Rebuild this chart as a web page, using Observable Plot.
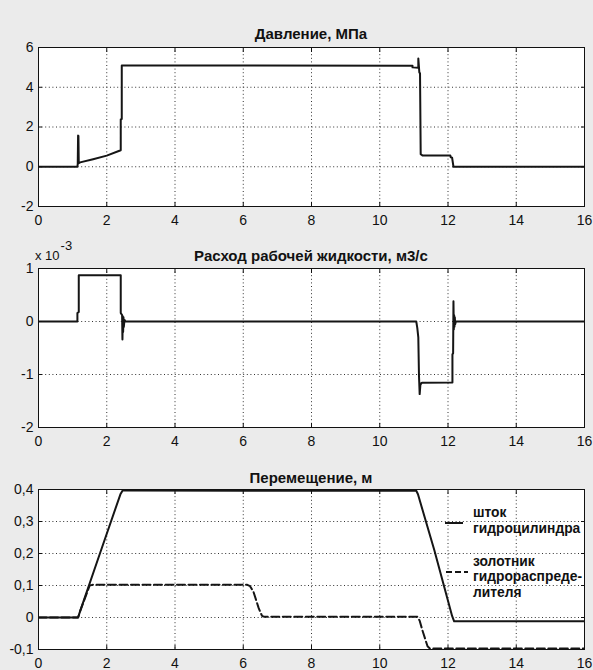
<!DOCTYPE html>
<html><head><meta charset="utf-8">
<script src="https://cdn.jsdelivr.net/npm/d3@7"></script>
<script src="https://cdn.jsdelivr.net/npm/@observablehq/plot@0.6"></script>
<style>
body{margin:0;background:#ebebeb;}
#fig{position:relative;width:593px;height:670px;background:#ebebeb;font-family:"Liberation Sans",Arial,sans-serif;overflow:hidden;color:#111}
.title{position:absolute;left:38px;width:546px;text-align:center;font-weight:bold;font-size:15px;line-height:17px;white-space:nowrap}
.panel{position:absolute;left:0}
.lg{position:absolute;font-weight:bold;font-size:13.8px;line-height:16px;white-space:nowrap}
svg{overflow:visible}
</style></head><body><div id="fig"></div>
<script>
// ---- data ----
const xTicks = [0, 2, 4, 6, 8, 10, 12, 14, 16];
const titles = ["Давление, МПа", "Расход рабочей жидкости, м3/с", "Перемещение, м"];
const legendLabels = [["шток", "гидроцилиндра"], ["золотник", "гидрораспреде-", "лителя"]];

// Pressure, MPa
const pressureTicks = [-2, 0, 2, 4, 6];
const pressureTime  = [0, 1.14, 1.15, 1.16, 1.17, 1.18, 1.22, 1.6, 2.0, 2.41, 2.41, 2.44, 2.44, 2.5, 6, 10.96, 10.96, 11.13, 11.13, 11.16, 11.18, 11.2, 11.25, 12.07, 12.08, 12.12, 12.16, 16];
const pressureValue = [0, 0,    0.15, 1.57, 1.55, 0.18, 0.22, 0.38, 0.56, 0.83, 2.38, 2.4, 5.1, 5.1, 5.09, 5.08, 5.0, 4.98, 5.45, 4.75, 4.7, 0.63, 0.57, 0.56, 0.48, 0.46, 0, 0];

// Flow, x10^-3 m3/s
const flowTicks = [-2, -1, 0, 1];
const flowTime  = [0, 1.14, 1.14, 1.18, 1.18, 2.41, 2.41, 2.45, 2.46, 2.47, 2.48, 2.49, 2.5, 2.52, 2.55, 11.07, 11.1, 11.13, 11.15, 11.17, 11.19, 11.22, 11.25, 12.13, 12.13, 12.15, 12.16, 12.17, 12.18, 12.19, 12.2, 12.21, 12.23, 16];
const flowValue = [0, 0,    0.16, 0.18, 0.875, 0.875, 0.16, 0.12, -0.34, 0.1, -0.2, 0.08, -0.1, 0.03, 0, 0,   -0.12, -0.3, -1.03, -1.37, -1.2, -1.16, -1.155, -1.15, -0.62, -0.6, 0.38, -0.15, 0.12, -0.1, 0.08, -0.05, 0, 0];

// Displacement, m
const dispTicks = [-0.1, 0, 0.1, 0.2, 0.3, 0.4];
const rodTime    = [0, 1.16, 1.22, 1.8, 2.4, 2.47, 2.6, 6, 11.07, 11.12, 11.6, 12.12, 12.18, 16];
const rodValue   = [0, 0,    0.02, 0.2, 0.385, 0.398, 0.397, 0.396, 0.396, 0.385, 0.21, 0.005, -0.012, -0.012];
const spoolTime  = [0, 1.16, 1.22, 1.5, 1.58, 6.12, 6.2, 6.3, 6.45, 6.55, 6.62, 11.1, 11.17, 11.25, 11.4, 11.47, 16];
const spoolValue = [0, 0,    0.02, 0.1, 0.102, 0.102, 0.098, 0.08, 0.03, 0.005, 0.002, 0.002, -0.01, -0.04, -0.09, -0.097, -0.097];

// ---- drawing ----
const fig = document.getElementById("fig");
const FONT = "Liberation Sans, Arial, sans-serif";
const fmtComma = d => String(d).replace(".", ",");
const fmtPlain = d => String(d);

function panel({top, height, marginTop, marginBottom, yDomain, yTicks, yFormat, lines}) {
  const inner = yTicks.filter(v => v !== yDomain[0] && v !== yDomain[1]);
  const innerX = xTicks.slice(1, -1);
  const marks = [
    Plot.frame({fill: "white", stroke: null}),
    Plot.gridX(innerX, {stroke: "#333", strokeOpacity: 1, strokeWidth: 1, strokeDasharray: "1,2.6"}),
    Plot.gridY(inner, {stroke: "#333", strokeOpacity: 1, strokeWidth: 1, strokeDasharray: "1,2.6"}),
    ...lines.map(s => Plot.line(d3.range(s.t.length), {x: s.t, y: s.v, stroke: "#151515", strokeWidth: 2, strokeDasharray: s.dash || null, clip: true})),
    Plot.frame({stroke: "#111", strokeWidth: 1}),
    Plot.axisX(xTicks, {anchor: "bottom", tickSize: -4, tickPadding: 13, tickFormat: fmtPlain, fontSize: 14, fontFamily: FONT, fill: "#111", stroke: "#111", label: null}),
    Plot.axisX(xTicks, {anchor: "top", tickSize: -4, tickFormat: () => "", stroke: "#111", label: null}),
    Plot.axisY(yTicks, {anchor: "left", tickSize: -4, tickPadding: 9, tickFormat: yFormat, fontSize: 14, fontFamily: FONT, fill: "#111", stroke: "#111", label: null}),
    Plot.axisY(yTicks, {anchor: "right", tickSize: -4, tickFormat: () => "", stroke: "#111", label: null})
  ];
  const svg = Plot.plot({
    width: 593, height, marginLeft: 38, marginRight: 9, marginTop, marginBottom,
    x: {domain: [0, 16]}, y: {domain: yDomain},
    style: {background: "transparent", fontFamily: FONT, fontSize: "14px", color: "#111"},
    marks
  });
  svg.classList.add("panel");
  svg.style.top = top + "px";
  fig.appendChild(svg);
}

function title(text, centerY) {
  const d = document.createElement("div");
  d.className = "title"; d.textContent = text; d.style.top = (centerY - 8.5) + "px";
  fig.appendChild(d);
}

title(titles[0], 33);
panel({top: 40, height: 186, marginTop: 7, marginBottom: 20, yDomain: [-2, 6], yTicks: pressureTicks, yFormat: fmtPlain,
  lines: [{t: pressureTime, v: pressureValue}]});

title(titles[1], 255);
const mult = document.createElement("div");
mult.style.cssText = "position:absolute;left:35px;top:248px;font-size:13px;line-height:15px;white-space:nowrap";
mult.innerHTML = "x 10<span style='position:relative;top:-10px;font-size:13px;margin-left:1px'>-3</span>";
fig.appendChild(mult);
panel({top: 261, height: 186, marginTop: 7, marginBottom: 20, yDomain: [-2, 1], yTicks: flowTicks, yFormat: fmtPlain,
  lines: [{t: flowTime, v: flowValue}]});

title(titles[2], 477);
panel({top: 482, height: 188, marginTop: 7, marginBottom: 21, yDomain: [-0.1, 0.4], yTicks: dispTicks, yFormat: fmtComma,
  lines: [{t: rodTime, v: rodValue}, {t: spoolTime, v: spoolValue, dash: "8,3.5"}]});

// legend (HTML overlay)
const lgSvg = `<svg class="lg" style="left:444px;top:515px" width="26" height="64">
  <line x1="1" x2="19" y1="8" y2="8" stroke="#151515" stroke-width="2"/>
  <line x1="2" x2="24" y1="57" y2="57" stroke="#151515" stroke-width="2" stroke-dasharray="6,3"/></svg>`;
fig.insertAdjacentHTML("beforeend", lgSvg);
const lgTops = [[513, 529], [562, 577, 593]];
legendLabels.forEach((grp, gi) => grp.forEach((txt, li) => {
  const d = document.createElement("div");
  d.className = "lg"; d.textContent = txt;
  d.style.left = "473px"; d.style.top = (lgTops[gi][li] - 8) + "px";
  fig.appendChild(d);
}));
</script></body></html>
